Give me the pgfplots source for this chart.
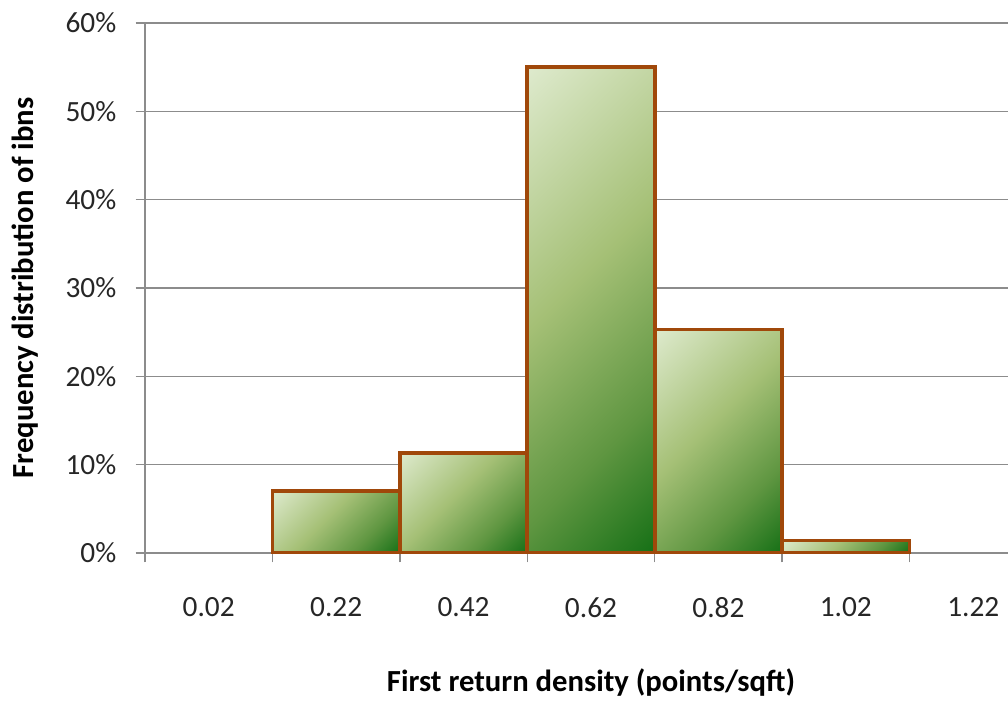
\documentclass[border=0pt]{standalone}
\usepackage{pgfplots}
\pgfplotsset{compat=1.18}
\usepackage{fontspec}
\setmainfont{Carlito}
\definecolor{gridgray}{RGB}{140,140,140}
\definecolor{barline}{RGB}{160,72,10}
\definecolor{lightg}{RGB}{222,234,205}
\definecolor{midg}{RGB}{165,192,118}
\definecolor{deepg}{RGB}{95,150,65}
\definecolor{darkg}{RGB}{22,112,22}
\pgfdeclareverticalshading{gbarshade}{100bp}{color(0bp)=(darkg); color(14.64bp)=(darkg); color(32bp)=(deepg); color(55bp)=(midg); color(85.36bp)=(lightg); color(100bp)=(lightg)}
\pgfplotsset{gbar/.style={ybar, bar width=1, draw=barline, line width=2.7pt,
  shading=gbarshade, shading angle=45}}
\begin{document}
\begin{tikzpicture}
\useasboundingbox (0,0) rectangle (756pt,525.75pt);
\clip (0,0) rectangle (756pt,525.75pt);
\begin{axis}[
  at={(108.75pt,111pt)}, anchor=south west,
  scale only axis, width=669pt, height=397.5pt,
  xmin=-0.5, xmax=6.5, ymin=0, ymax=60,
  axis x line*=bottom, axis y line*=left,
  axis line style={gridgray, line width=1.1pt, -},
  ytick={0,10,...,60},
  yticklabels={0\%,10\%,20\%,30\%,40\%,50\%,60\%},
  ymajorgrids, grid style={gridgray, line width=1.1pt},
  xtick={-0.5,0.5,...,6.5}, xticklabels={},
  extra x ticks={0,1,2,3,4,5,6},
  extra x tick labels={0.02,0.22,0.42,0.62,0.82,1.02,1.22},
  extra x tick style={major tick length=0pt, grid=none,
     xticklabel style={yshift=-30pt}},
  tick style={gridgray, line width=1.1pt},
  major tick length=7pt,
  tick align=outside,
  ticklabel style={font=\fontsize{22}{26}\selectfont, text=black!85},
  yticklabel style={xshift=-11pt},
  xlabel={First return density (points/sqft)},
  ylabel={Frequency distribution of ibns},
  label style={font=\bfseries\fontsize{23}{27}\selectfont},
  xlabel style={at={(axis description cs:0.5,-0.2453)}, anchor=center},
  ylabel style={at={(axis description cs:-0.1345,0.5)}, anchor=center},
]
\addplot[gbar] coordinates {(1,7.0)};
\addplot[gbar] coordinates {(2,11.3)};
\addplot[gbar] coordinates {(3,55.0)};
\addplot[gbar] coordinates {(4,25.3)};
\addplot[gbar] coordinates {(5,1.4)};
\end{axis}
\end{tikzpicture}
\end{document}
